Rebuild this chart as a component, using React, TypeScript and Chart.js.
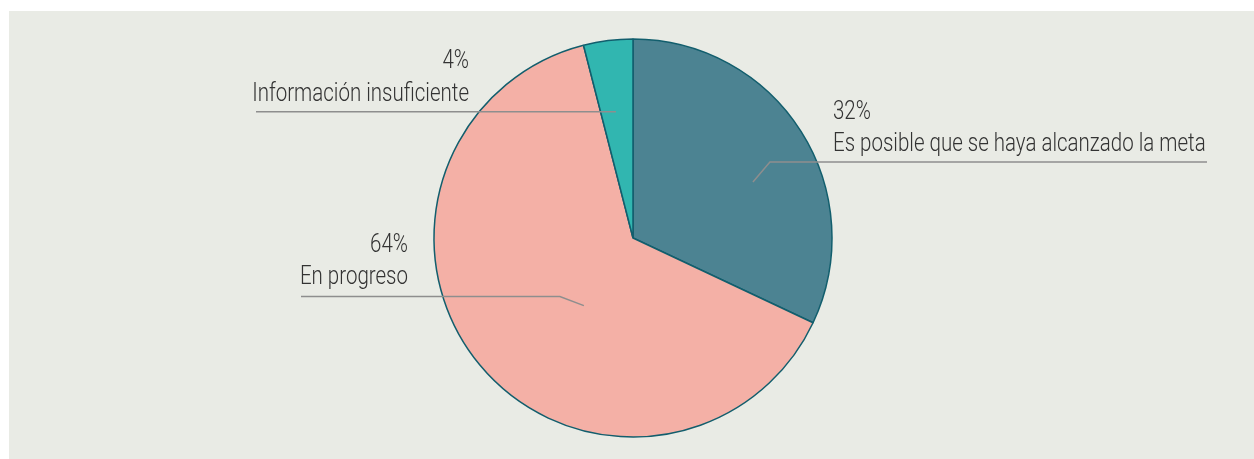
import React, { useEffect, useRef } from "react";
import { Chart, registerables } from "chart.js";

Chart.register(...registerables);

const categories = [
  "Es posible que se haya alcanzado la meta",
  "En progreso",
  "Información insuficiente",
];
const values = [32, 64, 4];
const percentLabels = ["32%", "64%", "4%"];
const colors = ["#4c8392", "#f4b0a6", "#31b6b0"];

// label layout (relative to the pie centre, px): anchor on slice, elbow, line end, text
const labelLayout = [
  { angleShift: 7.4, frac: 0.665, elbow: [17, -20], lineEnd: 574, textX: 200, align: "left", base1: -119, base2: -87 },
  { angleShift: -14.4, frac: 0.42, elbow: [-24, -9], lineEnd: -332, textX: -225, align: "right", base1: 14, base2: 46 },
  { angleShift: -0.5, frac: 0.64, elbow: null, lineEnd: -377, textX: -164, align: "right", base1: -170, base2: -137 },
];

const FONT = "300 25px Roboto, 'Liberation Sans', sans-serif";
const X_SCALE = 0.82;

const labelPlugin = {
  id: "pieLabels",
  afterDatasetsDraw(chart: any) {
    const ctx = chart.ctx;
    const meta = chart.getDatasetMeta(0);
    ctx.save();
    meta.data.forEach((arc: any, i: number) => {
      const L = labelLayout[i];
      const { x, y, startAngle, endAngle, outerRadius } = arc.getProps(
        ["x", "y", "startAngle", "endAngle", "outerRadius"],
        true
      );
      const mid = (startAngle + endAngle) / 2 + (L.angleShift * Math.PI) / 180;
      const ax = x + Math.cos(mid) * outerRadius * L.frac;
      const ay = y + Math.sin(mid) * outerRadius * L.frac;
      ctx.strokeStyle = "#8e8e8e";
      ctx.lineWidth = 1.5;
      ctx.beginPath();
      ctx.moveTo(ax, ay);
      let ly = ay;
      if (L.elbow) {
        const ex = ax + L.elbow[0];
        const ey = ay + L.elbow[1];
        ctx.lineTo(ex, ey);
        ly = ey;
      }
      ctx.lineTo(x + L.lineEnd, ly);
      ctx.stroke();

      ctx.fillStyle = "#333333";
      ctx.font = FONT;
      ctx.textAlign = L.align;
      ctx.textBaseline = "alphabetic";
      const drawText = (t: string, tx: number, ty: number) => {
        ctx.save();
        ctx.translate(tx, ty);
        ctx.scale(X_SCALE, 1);
        ctx.fillText(t, 0, 0);
        ctx.restore();
      };
      drawText(percentLabels[i], x + L.textX, y + L.base1);
      drawText(categories[i], x + L.textX, y + L.base2);
    });
    ctx.restore();
  },
};

export default function App() {
  const ref = useRef<HTMLCanvasElement>(null);
  useEffect(() => {
    if (!ref.current) return;
    const chart = new Chart(ref.current, {
      type: "pie",
      data: {
        labels: categories,
        datasets: [
          {
            data: values,
            backgroundColor: colors,
            borderColor: "#125e6d",
            borderWidth: 1.5,
          },
        ],
      },
      options: {
        animation: false,
        responsive: false,
        layout: { padding: { top: 27.25, bottom: 21.25, left: 3, right: 0 } },
        plugins: {
          legend: { display: false },
          tooltip: { enabled: false },
        },
      },
      plugins: [labelPlugin],
    });
    return () => chart.destroy();
  }, []);
  return (
    <div
      style={{
        position: "absolute",
        left: 9,
        top: 11,
        width: 1245,
        height: 448,
        background: "#e9ebe5",
      }}
    >
      <canvas ref={ref} width={1245} height={448} style={{ display: "block" }} />
    </div>
  );
}
